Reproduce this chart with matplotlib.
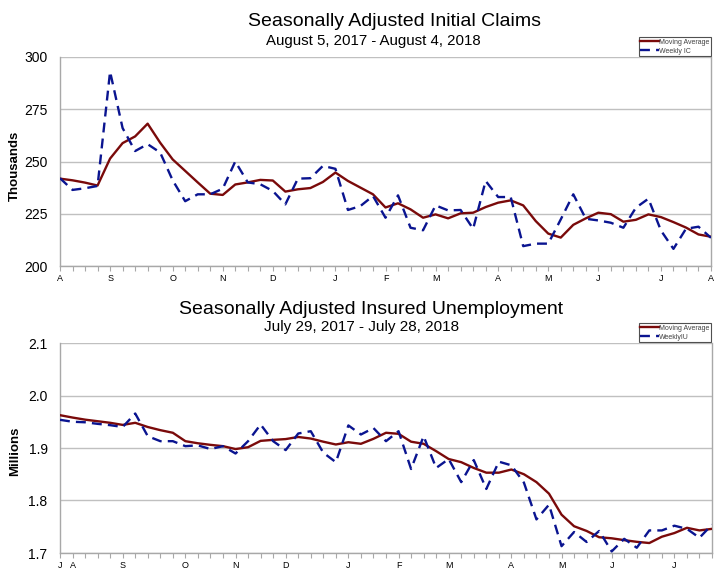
import matplotlib
matplotlib.use("Agg")
import matplotlib.pyplot as plt
from matplotlib.ticker import FixedLocator, NullFormatter

plt.rcParams['font.family'] = ['Liberation Sans', 'DejaVu Sans']

# ---------------- Data ----------------
ic_month_labels = ["A", "S", "O", "N", "D", "J", "F", "M", "A", "M", "J", "J", "A"]
ic_month_pos = [0, 4, 9, 13, 17, 22, 26, 30, 35, 39, 43, 48, 52]

ic_weekly = [242, 236.4, 237.2, 238.3, 293, 266, 255, 258.3, 254.3, 241,
             231, 234.3, 234.3, 237, 250, 240, 239.1, 235.9, 229.5, 241.8,
             242, 247.9, 246.5, 226.8, 228.7, 233.5, 223.1, 233.8, 218.3, 217.1,
             229.0, 226.6, 226.8, 217.8, 240.7, 233.0, 233.0, 209.5, 210.7, 210.7,
             222.3, 234.3, 222.6, 221.8, 220.7, 218.3, 227.9, 232.2, 217, 208.2,
             217.8, 218.8, 213.5]
ic_ma = [241.8, 241.0, 239.9, 238.5, 251.4, 258.8, 262, 268.1, 259, 251,
         245.5, 240, 234.6, 234, 239, 240, 241.2, 240.9, 235.6, 236.7,
         237.3, 240.2, 244.7, 240.7, 237.5, 234.3, 228.0, 230.0, 227.1, 223.1,
         224.7, 222.8, 225.2, 225.5, 228.2, 230.3, 231.4, 229, 221.5, 215.5,
         213.6, 219.7, 222.8, 225.5, 224.8, 221.2, 222.1, 224.7, 223.4, 221,
         218.4, 215.1, 214]
ic_yticks = [200, 225, 250, 275, 300]

iu_month_labels = ["J", "A", "S", "O", "N", "D", "J", "F", "M", "A", "M", "J", "J"]
iu_month_pos = [0, 1, 5, 10, 14, 18, 23, 27, 31, 36, 40, 44, 49]

iu_weekly = [1.9537, 1.950, 1.949, 1.946, 1.9435, 1.940, 1.9657, 1.9225, 1.913, 1.913,
             1.9035, 1.905, 1.898, 1.9035, 1.8895, 1.913, 1.9448, 1.913, 1.896, 1.9276,
             1.932, 1.891, 1.873, 1.943, 1.9257, 1.938, 1.913, 1.932, 1.860, 1.9225,
             1.862, 1.879, 1.835, 1.877, 1.822, 1.874, 1.867, 1.834, 1.764, 1.792,
             1.713, 1.740, 1.721, 1.742, 1.703, 1.727, 1.710, 1.743, 1.743, 1.752,
             1.746, 1.729, 1.754]
iu_ma = [1.9625, 1.958, 1.954, 1.951, 1.948, 1.944, 1.948, 1.940, 1.934, 1.929,
         1.913, 1.909, 1.906, 1.9035, 1.898, 1.9015, 1.9136, 1.9155, 1.917, 1.921,
         1.918, 1.912, 1.9067, 1.911, 1.908, 1.9175, 1.929, 1.927, 1.912, 1.908,
         1.894, 1.879, 1.873, 1.862, 1.853, 1.853, 1.859, 1.850, 1.835, 1.813,
         1.773, 1.751, 1.742, 1.730, 1.728, 1.7245, 1.7213, 1.719, 1.731, 1.738,
         1.748, 1.743, 1.746]
iu_yticks = [1.7, 1.8, 1.9, 2.0, 2.1]
iu_ytick_labels = ["1.7", "1.8", "1.9", "2.0", "2.1"]

# ---------------- Figure ----------------
W, H = 728, 587
fig = plt.figure(figsize=(W / 100, H / 100), dpi=100)

MA_COLOR = "#7a0a0a"
WK_COLOR = "#0a1490"
GRID = "#c0c0c0"
SPINE = "#a8a8a8"


def fx(px):
    return px / W


def fy(py):
    return 1 - py / H


def make_axes(left, right, top, bottom, weekly, ma, yticks, ylabels, mpos, mlabels,
              ylabel, ylabel_center, wk_label, legend_box):
    ax = fig.add_axes([fx(left), fy(bottom), fx(right - left), (bottom - top) / H])
    x = list(range(len(weekly)))
    l1, = ax.plot(x, ma, color=MA_COLOR, lw=1.7, solid_joinstyle='round', zorder=3)
    l2, = ax.plot(x, weekly, color=WK_COLOR, lw=1.7, dashes=(4.2, 2.6), zorder=4)
    ax.set_xlim(0, len(weekly) - 1)
    ax.set_ylim(yticks[0], yticks[-1])
    ax.set_yticks(yticks)
    ax.set_yticklabels(ylabels, fontsize=10)
    ax.tick_params(axis='y', length=0, pad=9)
    ax.yaxis.grid(True, color=GRID, lw=1.0)
    ax.set_axisbelow(True)
    ax.set_xticks(mpos)
    ax.set_xticklabels(mlabels, fontsize=6.5)
    ax.xaxis.set_minor_locator(FixedLocator(x))
    ax.xaxis.set_minor_formatter(NullFormatter())
    ax.tick_params(axis='x', which='both', length=3.5, width=0.8, color=SPINE,
                   direction='out', pad=2)
    for s in ['left', 'bottom', 'right']:
        ax.spines[s].set_color(SPINE)
        ax.spines[s].set_linewidth(1.0)
    ax.spines['top'].set_visible(False)
    ax.set_ylabel(ylabel, fontsize=9.5, fontweight='bold', va='center')
    ax.yaxis.set_label_coords((15 - left) / (right - left),
                              (bottom - ylabel_center) / (bottom - top))
    leg = ax.legend([l1, l2], ["Moving Average", wk_label], fontsize=5,
                    loc='lower right',
                    bbox_to_anchor=(fx(legend_box[0]), fy(legend_box[1])),
                    bbox_transform=fig.transFigure, borderaxespad=0,
                    handlelength=2.6, handletextpad=0.1, borderpad=0.2,
                    labelspacing=0.3, fancybox=False, framealpha=1)
    leg.get_frame().set_edgecolor("#505050")
    leg.get_frame().set_linewidth(0.8)
    for t in leg.get_texts():
        t.set_color("#404040")
    return ax


ax1 = make_axes(60, 711, 57, 266, ic_weekly, ic_ma, ic_yticks,
                [str(v) for v in ic_yticks], ic_month_pos, ic_month_labels,
                "Thousands", 166, "Weekly IC", (711, 56))
ax2 = make_axes(60, 712, 343, 553, iu_weekly, iu_ma, iu_yticks,
                iu_ytick_labels, iu_month_pos, iu_month_labels,
                "Millions", 451, "WeeklyIU", (711, 342))

fig.text(fx(394), fy(26.5), "Seasonally Adjusted Initial Claims", fontsize=14,
         ha='center', va='baseline')
fig.text(fx(373), fy(45), "August 5, 2017 - August 4, 2018", fontsize=10.8,
         ha='center', va='baseline')
fig.text(fx(371.5), fy(314), "Seasonally Adjusted Insured Unemployment", fontsize=14,
         ha='center', va='baseline')
fig.text(fx(361.5), fy(331.5), "July 29, 2017 - July 28, 2018", fontsize=11,
         ha='center', va='baseline')

fig.savefig("out.png", dpi=100)
